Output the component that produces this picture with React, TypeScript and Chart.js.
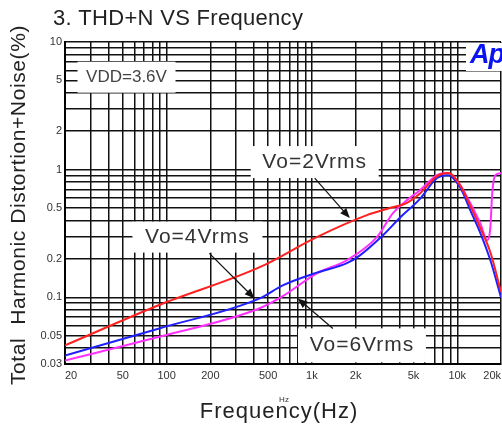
import React, { useEffect, useRef } from "react";
import { Chart, registerables } from "chart.js";

Chart.register(...registerables);

// ---- Data ----
const freq2V = [20, 89, 437, 1080, 2390, 3440, 4510, 5540, 7260, 8650, 10500, 12300, 14400, 16900, 20000];
const thd2V = [0.042, 0.087, 0.172, 0.296, 0.44, 0.5, 0.55, 0.65, 0.89, 0.94, 0.75, 0.52, 0.35, 0.225, 0.11];

const freq4V = [20, 89, 437, 630, 1080, 1740, 2140, 3080, 4030, 5540, 7260, 8650, 10500, 12300, 14400, 16900, 20000];
const thd4V = [0.035, 0.057, 0.098, 0.124, 0.156, 0.185, 0.213, 0.306, 0.42, 0.59, 0.86, 0.905, 0.72, 0.48, 0.32, 0.195, 0.1];

const freq6V = [20, 89, 437, 630, 1080, 1740, 2800, 3610, 4510, 5540, 7260, 8650, 10500, 12300, 14400, 16100, 16900, 17400, 18300, 20000];
const thd6V = [0.032, 0.049, 0.082, 0.102, 0.154, 0.195, 0.296, 0.456, 0.577, 0.69, 0.905, 0.94, 0.755, 0.545, 0.38, 0.28, 0.354, 0.655, 0.905, 0.94];

const xTickValues = [20, 50, 100, 200, 500, 1000, 2000, 5000, 10000, 20000];
const xTickLabels = ["20", "50", "100", "200", "500", "1k", "2k", "5k", "10k", "20k"];
const yTickValues = [10, 5, 2, 1, 0.5, 0.2, 0.1, 0.05, 0.03];
const yTickLabels = ["10", "5", "2", "1", "0.5", "0.2", "0.1", "0.05", "0.03"];

// Annotation labels (anchored in data coordinates)
const noteTexts = ["VDD=3.6V", "Vo=2Vrms", "Vo=4Vrms", "Vo=6Vrms"];
const noteFreqs = [53, 1045, 163, 2210];
const noteThd = [5.3, 1.146, 0.296, 0.042];

// Arrows: from (tail) -> to (head), data coordinates
const arrowFromFreq = [1045, 197, 1393];
const arrowFromThd = [0.857, 0.221, 0.057];
const arrowToFreq = [1824, 403, 798];
const arrowToThd = [0.417, 0.098, 0.098];

// grid values (every 1..9 multiple per decade)
const xGrid: number[] = [];
for (let d = 10; d <= 10000; d *= 10) for (let k = 1; k <= 9; k++) { const v = k * d; if (v >= 20 && v <= 20000) xGrid.push(v); }
const yGrid: number[] = [];
[0.01, 0.1, 1].forEach((d) => { for (let k = 1; k <= 9; k++) { const v = Number((k * d).toPrecision(3)); if (v >= 0.03) yGrid.push(v); } });
yGrid.push(10);

const near = (a: number, b: number) => Math.abs(a - b) / b < 1e-6;

const FONT = '"Liberation Sans", Arial, sans-serif';
const noteHalf = [[49, 15.5], [64, 16], [65, 15.5], [64, 17]];

function drawText(ctx: CanvasRenderingContext2D, text: string, x: number, y: number, font: string, color: string, spacing: string, align: CanvasTextAlign = "center", baseline: CanvasTextBaseline = "middle") {
  ctx.font = font;
  ctx.fillStyle = color;
  (ctx as any).letterSpacing = spacing;
  ctx.textAlign = align;
  ctx.textBaseline = baseline;
  ctx.fillText(text, x, y);
  (ctx as any).letterSpacing = "0px";
}

const decorPlugin = {
  id: "decor",
  beforeDatasetsDraw(chart: any) {
    const { ctx, scales, chartArea } = chart;
    const x = scales.x, y = scales.y;
    ctx.save();
    ctx.fillStyle = "#fff";
    noteTexts.forEach((_, i) => {
      const cx = x.getPixelForValue(noteFreqs[i]);
      const cy = y.getPixelForValue(noteThd[i]);
      const [hw, hh] = noteHalf[i];
      ctx.fillRect(cx - hw, cy - hh, hw * 2, hh * 2);
    });
    // logo background
    ctx.fillRect(chartArea.right - 35, chartArea.top + 1, 40, 28);
    ctx.restore();
  },
  afterDatasetsDraw(chart: any) {
    const { ctx, scales, chartArea } = chart;
    const x = scales.x, y = scales.y;
    ctx.save();
    noteTexts.forEach((t, i) => {
      const cx = x.getPixelForValue(noteFreqs[i]);
      const cy = y.getPixelForValue(noteThd[i]);
      if (i === 0) drawText(ctx, t, cx, cy, `17px ${FONT}`, "#444", "0px");
      else drawText(ctx, t, cx, cy, `21px ${FONT}`, "#333", "1px");
    });
    // arrows
    ctx.strokeStyle = "#111";
    ctx.fillStyle = "#111";
    ctx.lineWidth = 1.2;
    arrowFromFreq.forEach((_, i) => {
      const x0 = x.getPixelForValue(arrowFromFreq[i]);
      const y0 = y.getPixelForValue(arrowFromThd[i]);
      const x1 = x.getPixelForValue(arrowToFreq[i]);
      const y1 = y.getPixelForValue(arrowToThd[i]);
      const ang = Math.atan2(y1 - y0, x1 - x0);
      const L = 10, W = 4;
      ctx.beginPath();
      ctx.moveTo(x0, y0);
      ctx.lineTo(x1 - Math.cos(ang) * L * 0.8, y1 - Math.sin(ang) * L * 0.8);
      ctx.stroke();
      ctx.beginPath();
      ctx.moveTo(x1, y1);
      ctx.lineTo(x1 - Math.cos(ang) * L - Math.sin(ang) * W, y1 - Math.sin(ang) * L + Math.cos(ang) * W);
      ctx.lineTo(x1 - Math.cos(ang) * L + Math.sin(ang) * W, y1 - Math.sin(ang) * L - Math.cos(ang) * W);
      ctx.closePath();
      ctx.fill();
    });
    // logo
    drawText(ctx, "Ap", chartArea.right - 31, chartArea.top + 21, `italic bold 27px ${FONT}`, "#0a14f0", "-1px", "left", "alphabetic");
    ctx.restore();
  },
  afterDraw(chart: any) {
    const { ctx } = chart;
    ctx.save();
    drawText(ctx, "3. THD+N VS Frequency", 53, 25, `22px ${FONT}`, "#222", "0.3px", "left", "alphabetic");
    drawText(ctx, "Frequency(Hz)", 279, 418, `22px ${FONT}`, "#222", "1px", "center", "alphabetic");
    drawText(ctx, "Hz", 284, 400, `8px ${FONT}`, "#333", "0px", "center", "middle");
    ctx.translate(25, 205);
    ctx.rotate(-Math.PI / 2);
    drawText(ctx, "Total  Harmonic Distortion+Noise(%)", 0, 0, `21px ${FONT}`, "#222", "0.6px", "center", "alphabetic");
    ctx.restore();
  },
};

export default function App() {
  const ref = useRef<HTMLCanvasElement | null>(null);
  useEffect(() => {
    if (!ref.current) return;
    const mk = (f: number[], v: number[]) => f.map((fx, i) => ({ x: fx, y: v[i] }));
    const chart = new Chart(ref.current, {
      type: "line",
      data: {
        datasets: [
          { label: "Vo=2Vrms", data: mk(freq2V, thd2V), borderColor: "#ff2020", borderWidth: 2, pointRadius: 0, cubicInterpolationMode: "monotone" },
          { label: "Vo=4Vrms", data: mk(freq4V, thd4V), borderColor: "#2020ff", borderWidth: 2, pointRadius: 0, cubicInterpolationMode: "monotone" },
          { label: "Vo=6Vrms", data: mk(freq6V, thd6V), borderColor: "#ff30ff", borderWidth: 2, pointRadius: 0, cubicInterpolationMode: "monotone" },
        ],
      },
      options: {
        responsive: false,
        animation: false,
        layout: { padding: { top: 42, left: 0, right: 0, bottom: 0 } },
        plugins: { legend: { display: false }, tooltip: { enabled: false }, title: { display: false } },
        scales: {
          x: {
            type: "logarithmic",
            min: 20,
            max: 20000,
            afterBuildTicks: (s: any) => { s.ticks = xGrid.map((v) => ({ value: v })); },
            afterFit: (s: any) => { s.height = 63; },
            ticks: {
              autoSkip: false, maxRotation: 0, minRotation: 0, padding: 5, align: "inner",
              font: { family: FONT, size: 11 }, color: "#333",
              callback: (v: any) => { const i = xTickValues.findIndex((t) => near(Number(v), t)); return i >= 0 ? xTickLabels[i] : ""; },
            },
            grid: { color: "#111", lineWidth: 1.5, drawTicks: false },
            border: { color: "#000", width: 2 },
          },
          y: {
            type: "logarithmic",
            min: 0.03,
            max: 10,
            afterBuildTicks: (s: any) => { s.ticks = yGrid.map((v) => ({ value: v })); },
            afterFit: (s: any) => { s.width = 65; },
            ticks: {
              autoSkip: false, padding: 3,
              font: { family: FONT, size: 11 }, color: "#333",
              callback: (v: any) => { const i = yTickValues.findIndex((t) => near(Number(v), t)); return i >= 0 ? yTickLabels[i] : ""; },
            },
            grid: { color: "#111", lineWidth: 1.5, drawTicks: false },
            border: { color: "#000", width: 2 },
          },
        },
      } as any,
      plugins: [decorPlugin],
    });
    return () => chart.destroy();
  }, []);
  return (
    <div style={{ position: "fixed", left: 0, top: 0, width: 502, height: 427, overflow: "hidden", background: "#fff" }}>
      <canvas ref={ref} width={506} height={427} style={{ display: "block", width: 506, height: 427 }} />
    </div>
  );
}
